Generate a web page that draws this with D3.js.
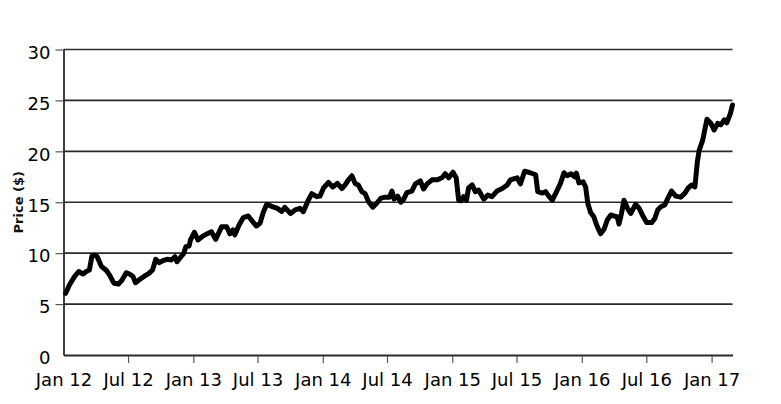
<!DOCTYPE html>
<html>
<head>
<meta charset="utf-8">
<script src="https://cdn.jsdelivr.net/npm/d3@7"></script>
<style>
  html, body { margin: 0; padding: 0; background: #fff; }
  svg { display: block; }
</style>
</head>
<body>
<svg id="chart" width="781" height="404"></svg>
<script>
const dates = [
"2012-01-07","2012-01-18","2012-02-01","2012-02-13","2012-02-25","2012-03-05","2012-03-14","2012-03-21","2012-03-29","2012-04-05",
"2012-04-17","2012-05-01","2012-05-10","2012-05-22","2012-06-04","2012-06-14","2012-06-26","2012-07-05","2012-07-15","2012-07-22",
"2012-08-03","2012-08-17","2012-08-29","2012-09-08","2012-09-17","2012-09-26","2012-10-07","2012-10-19","2012-10-31","2012-11-10",
"2012-11-16","2012-11-26","2012-12-05","2012-12-11","2012-12-20","2012-12-24","2013-01-04","2013-01-14","2013-01-29","2013-02-12",
"2013-02-21","2013-03-05","2013-03-22","2013-04-05","2013-04-14","2013-04-23","2013-04-28","2013-05-10","2013-05-22","2013-06-05",
"2013-06-17","2013-06-28","2013-07-08","2013-07-17","2013-07-27","2013-08-10","2013-08-26","2013-09-07","2013-09-16","2013-10-02",
"2013-10-15","2013-10-29","2013-11-07","2013-11-21","2013-12-01","2013-12-15","2013-12-24","2014-01-03","2014-01-17","2014-01-29",
"2014-02-11","2014-02-24","2014-03-05","2014-03-14","2014-03-24","2014-04-02","2014-04-11","2014-04-21","2014-04-30","2014-05-10",
"2014-05-22","2014-06-02","2014-06-14","2014-06-26","2014-07-08","2014-07-15","2014-07-21","2014-07-31","2014-08-09","2014-08-17",
"2014-08-26","2014-09-09","2014-09-19","2014-10-03","2014-10-12","2014-10-22","2014-11-05","2014-11-19","2014-12-03","2014-12-12",
"2014-12-22","2015-01-03","2015-01-12","2015-01-19","2015-01-26","2015-02-02","2015-02-10","2015-02-16","2015-02-26","2015-03-07",
"2015-03-16","2015-03-31","2015-04-11","2015-04-23","2015-05-07","2015-05-22","2015-06-05","2015-06-14","2015-06-23","2015-07-03",
"2015-07-12","2015-07-24","2015-08-09","2015-08-24","2015-08-30","2015-09-12","2015-09-21","2015-09-30","2015-10-10","2015-10-22",
"2015-11-02","2015-11-12","2015-11-21","2015-12-02","2015-12-12","2015-12-17","2015-12-24","2016-01-05","2016-01-12","2016-01-18",
"2016-01-26","2016-02-04","2016-02-12","2016-02-23","2016-03-04","2016-03-13","2016-03-23","2016-04-01","2016-04-10","2016-04-15",
"2016-04-22","2016-04-29","2016-05-09","2016-05-18","2016-06-01","2016-06-11","2016-06-20","2016-07-02","2016-07-16","2016-07-25",
"2016-08-02","2016-08-11","2016-08-22","2016-08-31","2016-09-10","2016-09-22","2016-10-06","2016-10-18","2016-10-27","2016-11-06",
"2016-11-15","2016-11-22","2016-11-27","2016-12-07","2016-12-19","2016-12-30","2017-01-08","2017-01-18","2017-01-27","2017-02-06",
"2017-02-13","2017-02-23","2017-03-01"
];
const prices = [
6.06,6.9,7.7,8.2,7.95,8.2,8.35,9.7,9.8,9.65,
8.7,8.3,7.85,7.05,6.97,7.36,8.08,7.95,7.7,7.1,
7.43,7.76,8.02,8.35,9.4,9.07,9.26,9.4,9.33,9.65,
9.16,9.6,9.98,10.64,10.7,11.3,12.05,11.3,11.7,11.95,
12.1,11.36,12.6,12.6,11.9,12.28,11.8,12.77,13.5,13.65,
13.1,12.67,12.93,14.0,14.8,14.6,14.4,14.1,14.5,13.9,
14.24,14.4,14.07,15.2,15.85,15.55,15.6,16.4,16.95,16.5,
16.85,16.35,16.7,17.2,17.6,16.85,16.7,16.04,15.85,15.06,
14.5,14.9,15.4,15.5,15.5,16.1,15.3,15.6,15.0,15.3,
15.95,16.1,16.8,17.1,16.3,16.8,17.2,17.2,17.4,17.8,
17.4,17.95,17.4,15.2,15.15,15.55,15.2,16.4,16.7,16.04,
16.2,15.3,15.7,15.55,16.1,16.35,16.7,17.2,17.3,17.4,
16.8,18.05,17.9,17.7,16.04,15.9,16.04,15.6,15.2,16.04,
16.85,17.9,17.6,17.8,17.5,17.85,16.9,17.0,16.5,14.9,
14.0,13.58,12.77,11.9,12.35,13.26,13.75,13.65,13.58,12.86,
13.9,15.2,14.4,13.9,14.8,14.4,13.75,13.0,13.0,13.4,
14.24,14.56,14.73,15.4,16.1,15.6,15.5,15.9,16.4,16.7,
16.5,19.0,20.1,21.1,23.15,22.75,22.1,22.75,22.6,23.1,
22.8,23.7,24.55
];
const yTicks = [0, 5, 10, 15, 20, 25, 30];
const xTickDates = ["2012-01-01","2012-07-01","2013-01-01","2013-07-01","2014-01-01","2014-07-01","2015-01-01","2015-07-01","2016-01-01","2016-07-01","2017-01-01"];
const xTickLabels = ["Jan 12","Jul 12","Jan 13","Jul 13","Jan 14","Jul 14","Jan 15","Jul 15","Jan 16","Jul 16","Jan 17"];
const yTitle = "Price ($)";

const parse = d3.timeParse("%Y-%m-%d");
const data = dates.map((d, i) => ({ date: parse(d), value: prices[i] }));
const tickDates = xTickDates.map(parse);

const svg = d3.select("#chart");
const mLeft = 63.5, mRight = 732.5, mTop = 49.5, mBottom = 355;
const font = "'DejaVu Sans', Verdana, sans-serif";

const x = d3.scaleTime()
  .domain([parse("2012-01-01"), data[data.length - 1].date])
  .range([mLeft, mRight]);
const y = d3.scaleLinear().domain([0, 30]).range([mBottom, mTop]);

// gridlines
svg.append("g").selectAll("line")
  .data(yTicks.filter(t => t > 0))
  .join("line")
  .attr("x1", mLeft).attr("x2", mRight)
  .attr("y1", d => y(d)).attr("y2", d => y(d))
  .attr("stroke", "#2a2a2a").attr("stroke-width", 1.6);

// y axis
const yAxis = svg.append("g")
  .attr("transform", `translate(${mLeft},0)`)
  .call(d3.axisLeft(y).tickValues(yTicks).tickSize(8).tickSizeOuter(0).tickPadding(5).tickFormat(d3.format("d")));
yAxis.select(".domain").attr("stroke", "#2a2a2a").attr("stroke-width", 1.8);
yAxis.selectAll(".tick line").attr("stroke", "#555").attr("stroke-width", 1.2)
  .attr("visibility", d => d === 0 ? "hidden" : null);
yAxis.selectAll(".tick text")
  .attr("font-family", font).attr("font-size", 18).attr("fill", "#000")
  .attr("y", 3);

// x axis
const xAxis = svg.append("g")
  .attr("transform", `translate(0,${mBottom})`)
  .call(d3.axisBottom(x).tickValues(tickDates).tickSize(8).tickSizeOuter(0).tickPadding(10)
    .tickFormat((d, i) => xTickLabels[i]));
xAxis.select(".domain").attr("stroke", "#2a2a2a").attr("stroke-width", 1.8);
xAxis.selectAll(".tick line").attr("stroke", "#555").attr("stroke-width", 1.2)
  .attr("y1", 1)
  .attr("visibility", (d, i) => i === 0 ? "hidden" : null);
xAxis.selectAll(".tick text")
  .attr("font-family", font).attr("font-size", 18).attr("fill", "#000");

// y title
svg.append("text")
  .attr("transform", `translate(23,${(mTop + mBottom) / 2}) rotate(-90)`)
  .attr("text-anchor", "middle")
  .attr("font-family", font).attr("font-size", 13).attr("font-weight", "bold")
  .attr("fill", "#111")
  .text(yTitle);

// line
const line = d3.line().x(d => x(d.date)).y(d => y(d.value));
svg.append("path")
  .datum(data)
  .attr("d", line)
  .attr("fill", "none")
  .attr("stroke", "#000")
  .attr("stroke-width", 5)
  .attr("stroke-linejoin", "round")
  .attr("stroke-linecap", "round");
</script>
</body>
</html>
